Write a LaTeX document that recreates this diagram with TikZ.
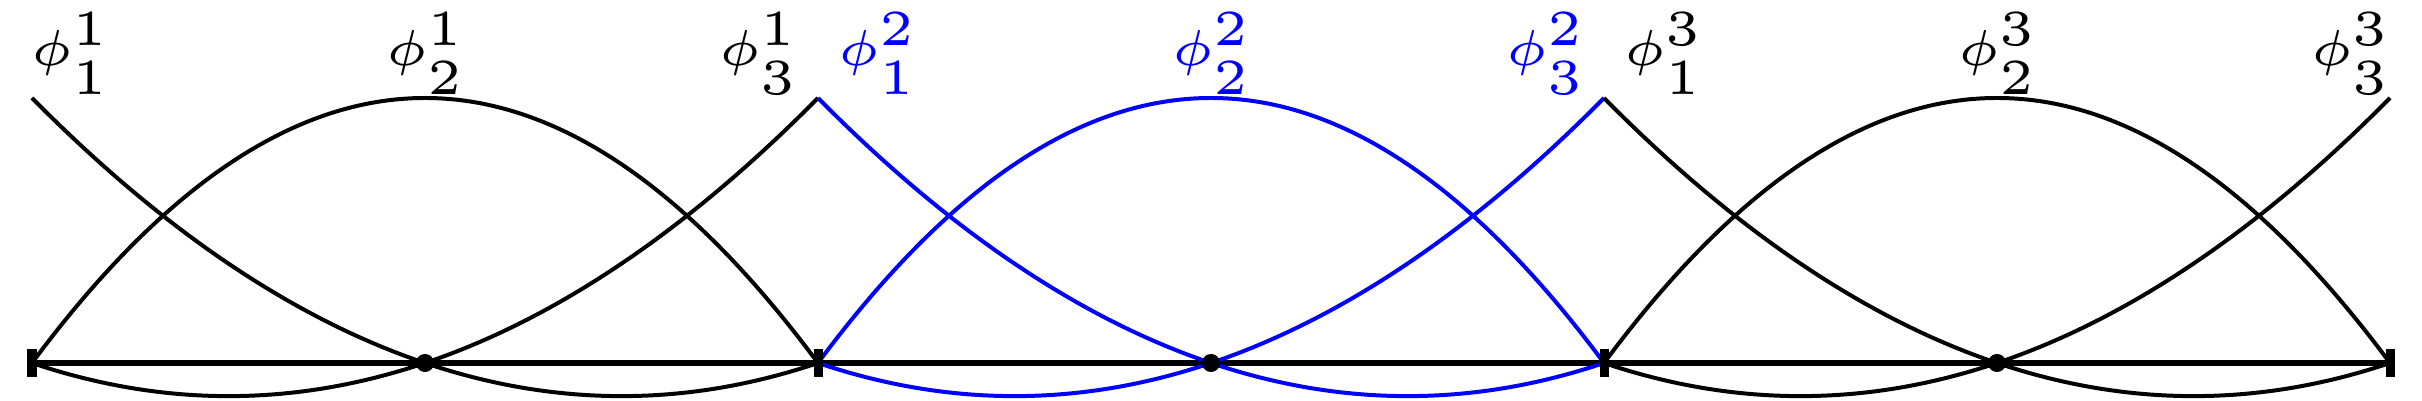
\documentclass[tikz,border=0pt]{standalone}
\usepackage{graphicx}
\newcommand{\plab}[2]{\scalebox{1.9}{\tiny$\phi^{#1}_{#2}$}}
\begin{document}
\begin{tikzpicture}[x=0.0066061cm,y=-0.0066061cm,
  curve/.style={line width=0.75pt},
  axis/.style={line width=1pt},
  tickmark/.style={fill=black,inner sep=0pt,minimum width=0.0595cm,minimum height=0.185cm,draw=none},
  nodedot/.style={circle,fill=black,inner sep=0pt,minimum size=3.4pt},
  lab/.style={anchor=base,inner sep=0pt}]
\useasboundingbox (0,0) rectangle (2422,401);
% baseline points
\foreach \i in {0,...,6} {
  \coordinate (b\i) at ({32+393*\i},363);
}
\draw[axis] (b0) -- (b6);
% basis functions
\foreach \e/\col [evaluate=\e as \a using 32+786*\e] in {0/black,1/blue,2/black} {
  \draw[curve,\col] (\a,98) .. controls ({\a+262},363) and ({\a+524},451.33) .. ({\a+786},363);
  \draw[curve,\col] (\a,363) .. controls ({\a+262},9.67) and ({\a+524},9.67) .. ({\a+786},363);
  \draw[curve,\col] (\a,363) .. controls ({\a+262},451.33) and ({\a+524},363) .. ({\a+786},98);
}
% element boundaries and mid nodes
\foreach \i in {0,2,4,6} { \node[tickmark] (t\i) at (b\i) {}; }
\foreach \i in {1,3,5} { \node[nodedot] (d\i) at (b\i) {}; }
% labels
\node[lab] (l11) at (71,66) {\plab{1}{1}};
\node[lab] (l12) at (426,66) {\plab{1}{2}};
\node[lab] (l13) at (759,66) {\plab{1}{3}};
\node[lab,text=blue] (l21) at (878,66) {\plab{2}{1}};
\node[lab,text=blue] (l22) at (1212,66) {\plab{2}{2}};
\node[lab,text=blue] (l23) at (1546,66) {\plab{2}{3}};
\node[lab] (l31) at (1664,66) {\plab{3}{1}};
\node[lab] (l32) at (1998,66) {\plab{3}{2}};
\node[lab] (l33) at (2351,66) {\plab{3}{3}};
\end{tikzpicture}
\end{document}
